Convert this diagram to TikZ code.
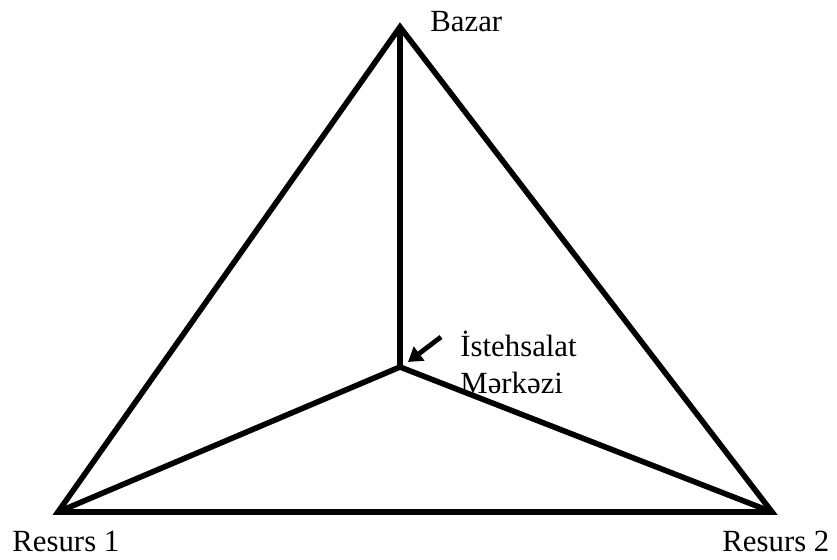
\documentclass[tikz,border=0pt]{standalone}
\usepackage{fontspec}
\setmainfont{Liberation Serif}
\usetikzlibrary{arrows.meta, calc}

\begin{document}
\begin{tikzpicture}[x=0.5pt, y=-0.5pt,
    every node/.style={font=\fontsize{15.4}{17}\selectfont, inner sep=0pt},
    edge/.style={line width=2.8pt, line join=miter},
    pointer/.style={line width=2.4pt, -{Triangle[length=7pt, width=8.5pt]}}]
    \useasboundingbox (0,0) rectangle (837,560);
    % vertices
    \coordinate (bazar) at (400,27);
    \coordinate (res1) at (58,512);
    \coordinate (res2) at (772,512);
    \coordinate (merkez) at (400,367);
    \coordinate (ox) at (441,337);
    % triangle and spokes
    \draw[edge] (bazar) -- (res2) -- (res1) -- cycle;
    \draw[edge] (bazar) -- (merkez);
    \draw[edge] (res1) -- (merkez) -- (res2);
    \draw[pointer] (ox) -- ($(merkez)+(8,-5)$);
    % labels
    \node[anchor=base west] (lbazar) at (430,32) {Bazar};
    \node[anchor=base west] (lres1) at (12,552) {Resurs 1};
    \node[anchor=base west] (lres2) at (722,552) {Resurs 2};
    \node[anchor=base west] (lmerkez1) at (460,357) {İstehsalat};
    \node[anchor=base west] (lmerkez2) at (460,394) {Mərkəzi};
\end{tikzpicture}
\end{document}
